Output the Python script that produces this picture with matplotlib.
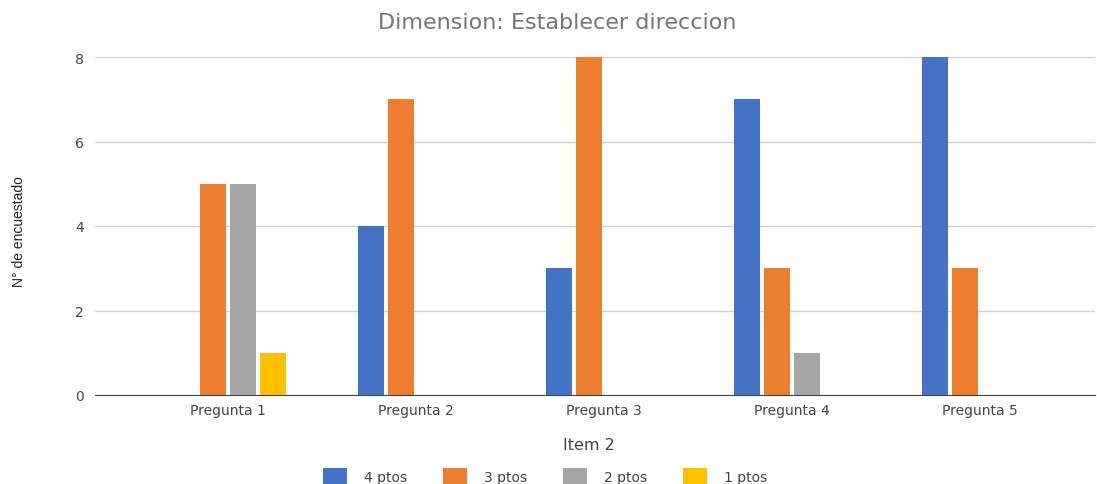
import matplotlib
matplotlib.use("Agg")
import matplotlib.pyplot as plt
import numpy as np

# survey counts per question
preguntas = ["Pregunta 1", "Pregunta 2", "Pregunta 3", "Pregunta 4", "Pregunta 5"]
series = ["4 ptos", "3 ptos", "2 ptos", "1 ptos"]
ptos4 = [0, 4, 3, 7, 8]
ptos3 = [5, 7, 8, 3, 3]
ptos2 = [5, 0, 0, 1, 0]
ptos1 = [1, 0, 0, 0, 0]
colores = ["#4472c4", "#ed7d31", "#a5a5a5", "#ffc000"]

plt.rcParams["font.family"] = ["DejaVu Sans"]

fig = plt.figure(figsize=(10.97, 4.85), dpi=100)
ax = fig.add_axes([95 / 1097, 1 - 396 / 485, 1000 / 1097, (396 - 58) / 485])

x = np.arange(len(preguntas))
paso = 30 / 188
ancho = 26 / 188
for i, (vals, nombre) in enumerate(zip([ptos4, ptos3, ptos2, ptos1], series)):
    ax.bar(x + (i - 1.5) * paso, vals, width=ancho, color=colores[i],
           label=nombre, zorder=3)

ax.set_xlim((95 - 228) / 188, (1095 - 228) / 188)
ax.set_ylim(0, 8)
ax.set_yticks([0, 2, 4, 6, 8])
ax.set_xticks(x)
ax.set_xticklabels(preguntas)
ax.grid(axis="y", color="#d0d0d0", linewidth=1, zorder=0)
for s in ["top", "right", "left"]:
    ax.spines[s].set_visible(False)
ax.spines["bottom"].set_color("#444444")
ax.spines["bottom"].set_zorder(4)
ax.tick_params(axis="both", length=0, labelsize=10, colors="#444444")
ax.tick_params(axis="y", pad=8)
ax.tick_params(axis="x", pad=6)

ax.set_title("Dimension: Establecer direccion", fontsize=16, color="#757575",
             pad=21, x=0.462)
ax.set_xlabel("Item 2", fontsize=11.5, color="#444444", labelpad=13)
ax.xaxis.set_label_coords(0.494, -0.125)
fig.text(0.017, 1 - 232 / 485, "N° de encuestado", rotation=90, ha="center", va="center",
         fontsize=10, color="#222222",
         family=["Liberation Sans Narrow", "Liberation Sans", "DejaVu Sans"])

fig.legend(loc="center", bbox_to_anchor=(0.497, 1 - 477 / 485), ncol=4, frameon=False,
           fontsize=10, handlelength=1.73, handleheight=1.3, columnspacing=2.6,
           handletextpad=1.2, labelcolor="#444444")

fig.savefig("out.png", dpi=100, facecolor="white")
